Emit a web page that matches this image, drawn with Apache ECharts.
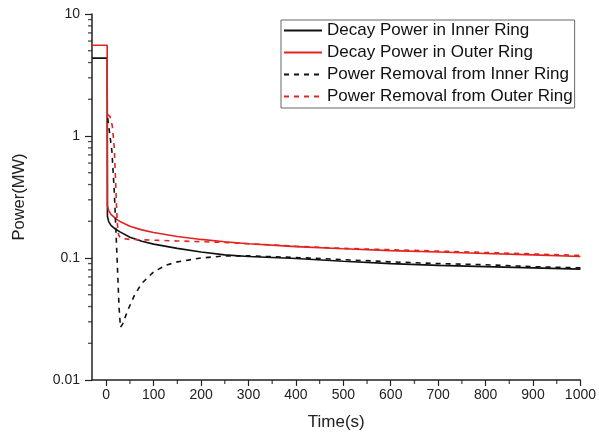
<!DOCTYPE html>
<html>
<head>
<meta charset="utf-8">
<script src="https://cdn.jsdelivr.net/npm/echarts@6/dist/echarts.min.js"></script>
<style>
html,body{margin:0;padding:0;background:#fff;}
#chart{width:599px;height:437px;}
</style>
</head>
<body>
<div id="chart"></div>
<script>
// ---- data (time in s, power in MW) ----
var seriesNames = ['Decay Power in Inner Ring', 'Decay Power in Outer Ring', 'Power Removal from Inner Ring', 'Power Removal from Outer Ring'];

var decayTime   = [-30, 2, 2.5, 5, 10, 20, 30, 50, 75, 100, 150, 200, 250, 300, 400, 500, 600, 700, 800, 900, 1000];
var innerDecay  = [4.35, 4.35, 0.22, 0.2, 0.185, 0.172, 0.163, 0.148, 0.137, 0.13, 0.12, 0.112, 0.106, 0.103, 0.099, 0.094, 0.09, 0.087, 0.085, 0.083, 0.081];
var outerDecay  = [5.55, 5.55, 0.27, 0.245, 0.228, 0.21, 0.198, 0.182, 0.17, 0.162, 0.15, 0.142, 0.136, 0.131, 0.124, 0.119, 0.115, 0.112, 0.109, 0.106, 0.103];

var innerRemovalTime = [3, 8, 12, 17, 22, 27, 30, 35, 45, 60, 75, 100, 125, 150, 200, 250, 300, 400, 500, 600, 700, 800, 900, 1000];
var innerRemoval     = [1.4, 1.0, 0.75, 0.35, 0.12, 0.04, 0.027, 0.029, 0.037, 0.05, 0.062, 0.077, 0.087, 0.093, 0.1, 0.104, 0.104, 0.101, 0.097, 0.093, 0.09, 0.088, 0.085, 0.083];

var outerRemovalTime = [3, 8, 13, 17, 20, 23, 26, 30, 50, 100, 150, 200, 250, 300, 400, 500, 600, 700, 800, 900, 1000];
var outerRemoval     = [1.5, 1.45, 1.2, 0.8, 0.4, 0.2, 0.155, 0.145, 0.142, 0.14, 0.138, 0.136, 0.134, 0.131, 0.125, 0.12, 0.117, 0.114, 0.111, 0.108, 0.105];

var xMin = -30, xMax = 1000, yMin = 0.01, yMax = 10;
var xMajorTicks = [0, 100, 200, 300, 400, 500, 600, 700, 800, 900, 1000];
var xMinorTicks = [50, 150, 250, 350, 450, 550, 650, 750, 850, 950];
var yMajorTicks = [0.01, 0.1, 1, 10];
var yMinorTicks = [0.02,0.03,0.04,0.05,0.06,0.07,0.08,0.09,0.2,0.3,0.4,0.5,0.6,0.7,0.8,0.9,2,3,4,5,6,7,8,9];

function pairs(t, v) { return t.map(function (x, i) { return [x, v[i]]; }); }

var FONT = 'Liberation Sans, Arial, sans-serif';
var RED = '#e3231f';
var BLACK = '#111111';
var axisColor = '#222';

var chart = echarts.init(document.getElementById('chart'), null, {renderer: 'canvas'});

var option = {
  animation: false,
  backgroundColor: '#fff',
  textStyle: {fontFamily: FONT},
  grid: {left: 92, right: 16, top: 14, bottom: 57, containLabel: false},
  legend: {
    orient: 'vertical',
    left: 281, top: 20,
    padding: [2, 2, 3, 2],
    borderColor: '#666', borderWidth: 1,
    itemWidth: 38, itemHeight: 14, itemGap: 5,
    itemStyle: {opacity: 0},
    textStyle: {fontFamily: FONT, fontSize: 17, color: '#111'},
    data: seriesNames
  },
  xAxis: {
    type: 'value', min: xMin, max: xMax,
    name: 'Time(s)', nameLocation: 'middle', nameGap: 34,
    nameTextStyle: {fontFamily: FONT, fontSize: 17, color: '#222'},
    axisLine: {show: true, onZero: false, lineStyle: {color: axisColor, width: 1.5}},
    axisTick: {show: true, inside: false, length: 6, customValues: xMajorTicks, lineStyle: {color: axisColor, width: 1.2}},
    axisLabel: {customValues: xMajorTicks, fontFamily: FONT, fontSize: 14, color: '#222', margin: 8,
      formatter: function (v) { return String(v); }},
    splitLine: {show: false}
  },
  yAxis: {
    type: 'log', logBase: 10, min: yMin, max: yMax,
    name: 'Power(MW)', nameLocation: 'middle', nameGap: 64, nameRotate: 90,
    nameTextStyle: {fontFamily: FONT, fontSize: 16.5, color: '#222'},
    axisLine: {show: true, onZero: false, lineStyle: {color: axisColor, width: 1.5}},
    axisTick: {show: true, inside: false, length: 7, customValues: yMajorTicks, lineStyle: {color: axisColor, width: 1.2}},
    axisLabel: {customValues: yMajorTicks, fontFamily: FONT, fontSize: 14, color: '#222', margin: 12,
      formatter: function (v) { return String(+v.toPrecision(3)); }},
    splitLine: {show: false}
  },
  series: [{
    name: seriesNames[0], type: 'line', symbol: 'none',
    lineStyle: {color: BLACK, width: 1.6, type: 'solid'}, itemStyle: {color: BLACK},
    data: pairs(decayTime, innerDecay), z: 3
  }, {
    name: seriesNames[1], type: 'line', symbol: 'none',
    lineStyle: {color: RED, width: 1.6, type: 'solid'}, itemStyle: {color: RED},
    data: pairs(decayTime, outerDecay), z: 3
  }, {
    name: seriesNames[2], type: 'line', symbol: 'none',
    lineStyle: {color: BLACK, width: 1.6, type: [5, 5]}, itemStyle: {color: BLACK},
    data: pairs(innerRemovalTime, innerRemoval), z: 4
  }, {
    name: seriesNames[3], type: 'line', symbol: 'none',
    lineStyle: {color: RED, width: 1.6, type: [5, 5]}, itemStyle: {color: RED},
    data: pairs(outerRemovalTime, outerRemoval), z: 4
  }, {
    // minor ticks on the time axis
    name: 'xMinor', type: 'scatter', clip: false, silent: true,
    symbol: 'rect', symbolSize: [1.3, 4], symbolOffset: [0, 2],
    itemStyle: {color: axisColor},
    data: xMinorTicks.map(function (t) { return [t, yMin]; }), z: 5
  }, {
    // minor ticks on the power axis
    name: 'yMinor', type: 'scatter', clip: false, silent: true,
    symbol: 'rect', symbolSize: [4, 1.3], symbolOffset: [-2, 0],
    itemStyle: {color: axisColor},
    data: yMinorTicks.map(function (v) { return [xMin, v]; }), z: 5
  }]
};
chart.setOption(option);
</script>
</body>
</html>
